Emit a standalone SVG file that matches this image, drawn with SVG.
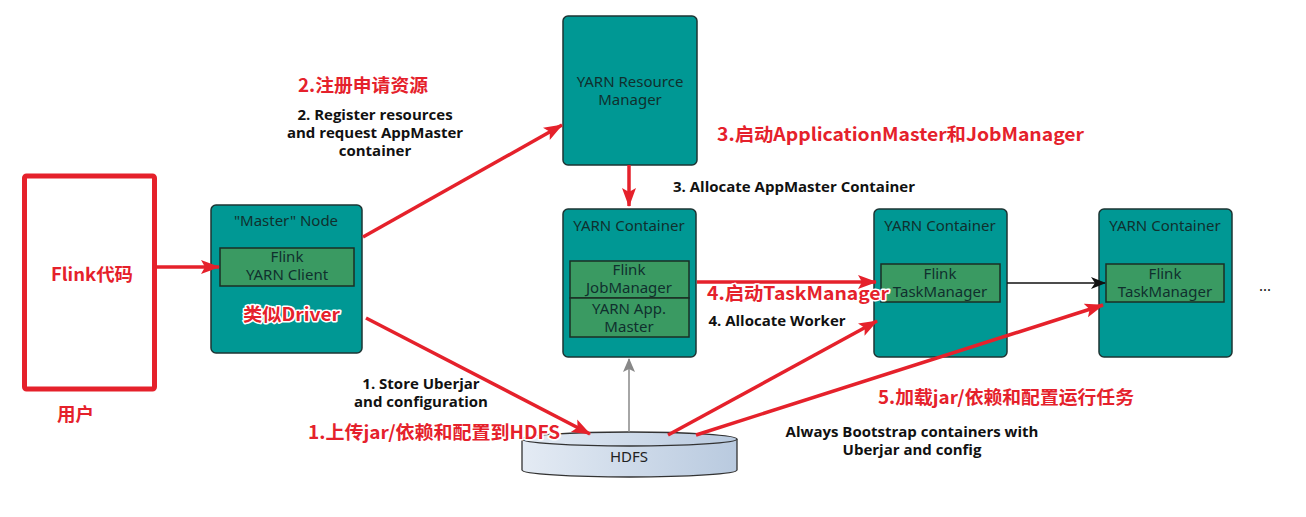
<svg xmlns="http://www.w3.org/2000/svg" width="1306" height="517" viewBox="0 0 1306 517">
<style>
.box{fill:#009894;stroke:#1d3433;stroke-width:1.5}
.inner{fill:#3a9a62;stroke:#1b2e24;stroke-width:1.5}
.bt{font-family:"Noto Sans","Open Sans",sans-serif;font-size:15px;fill:#10302e;text-anchor:middle}
.lbl{font-family:"Open Sans","Noto Sans",sans-serif;font-size:15px;font-weight:bold;fill:#111;text-anchor:middle}
.red{font-family:"Noto Sans CJK SC","Noto Sans",sans-serif;font-size:18px;font-weight:bold;fill:#e5212b;stroke:#ffffff;stroke-width:3;paint-order:stroke;stroke-linejoin:round}
.ra{stroke:#e5212b;stroke-width:3.5;fill:none;marker-end:url(#rh)}
</style>
<defs>
<marker id="rh" markerUnits="userSpaceOnUse" markerWidth="20" markerHeight="16" refX="18" refY="8" orient="auto">
<path d="M0,1 L19,8 L0,15 L4,8 z" fill="#e5212b"/>
</marker>
<marker id="bh" markerUnits="userSpaceOnUse" markerWidth="16" markerHeight="14" refX="14" refY="7" orient="auto">
<path d="M0,1 L15,7 L0,13 L4,7 z" fill="#111"/>
</marker>
<marker id="gh" markerUnits="userSpaceOnUse" markerWidth="14" markerHeight="14" refX="13" refY="7" orient="auto">
<path d="M0,1 L14,7 L0,13 L3,7 z" fill="#888"/>
</marker>
<linearGradient id="hd" x1="0" y1="0" x2="1" y2="0">
<stop offset="0" stop-color="#e4ebf4"/>
<stop offset="1" stop-color="#b9cadf"/>
</linearGradient>
</defs>

<g id="user">
<rect x="24.5" y="176" width="130" height="213" fill="#fff" stroke="#e5212b" stroke-width="5" rx="2"/>
<text class="red" x="51" y="281" textLength="82" lengthAdjust="spacingAndGlyphs">Flink代码</text>
<text class="red" x="57" y="421" textLength="37" lengthAdjust="spacingAndGlyphs">用户</text>
</g>

<g id="master">
<rect class="box" x="211" y="205" width="151" height="148" rx="5"/>
<text class="bt" x="286" y="226">"Master" Node</text>
<rect class="inner" x="220" y="248" width="134" height="38"/>
<text class="bt" x="287" y="262">Flink</text>
<text class="bt" x="287" y="280">YARN Client</text>
<text class="red" x="243" y="321" textLength="97" lengthAdjust="spacingAndGlyphs">类似Driver</text>
</g>

<g id="rm">
<rect class="box" x="563" y="16" width="134" height="149" rx="5"/>
<text class="bt" x="630" y="87">YARN Resource</text>
<text class="bt" x="630" y="105">Manager</text>
</g>

<g id="c1">
<rect class="box" x="563" y="209" width="133" height="148" rx="5"/>
<text class="bt" x="629" y="231">YARN Container</text>
<rect class="inner" x="570" y="261" width="119" height="37"/>
<text class="bt" x="629" y="275">Flink</text>
<text class="bt" x="629" y="293">JobManager</text>
<rect class="inner" x="570" y="298" width="119" height="39"/>
<text class="bt" x="629" y="314">YARN App.</text>
<text class="bt" x="629" y="332">Master</text>
</g>

<g id="c2">
<rect class="box" x="874" y="209" width="133" height="148" rx="5"/>
<text class="bt" x="940" y="231">YARN Container</text>
<rect class="inner" x="881" y="264" width="119" height="38"/>
<text class="bt" x="940" y="279">Flink</text>
<text class="bt" x="940" y="297">TaskManager</text>
</g>

<g id="c3">
<rect class="box" x="1099" y="209" width="133" height="148" rx="5"/>
<text class="bt" x="1165" y="231">YARN Container</text>
<rect class="inner" x="1106" y="264" width="118" height="38"/>
<text class="bt" x="1165" y="279">Flink</text>
<text class="bt" x="1165" y="297">TaskManager</text>
</g>

<g id="more">
<text class="bt" x="1265" y="291" style="fill:#111">...</text>
</g>

<g id="hdfs">
<path d="M522,439 L522,470 A107.5,7 0 0 0 737,470 L737,439" fill="url(#hd)" stroke="#333" stroke-width="1.3"/>
<ellipse cx="629.5" cy="439" rx="107.5" ry="7" fill="url(#hd)" stroke="#333" stroke-width="1.3"/>
<text class="bt" x="629" y="462" style="fill:#222">HDFS</text>
</g>

<g id="connectors">
<line class="ra" x1="157" y1="267" x2="219" y2="267"/>
<line class="ra" x1="363" y1="237" x2="562" y2="125"/>
<line class="ra" x1="629" y1="165" x2="629" y2="206"/>
<line class="ra" x1="697" y1="282" x2="876" y2="282"/>
<line x1="1007" y1="283" x2="1105" y2="283" stroke="#111" stroke-width="1.3" marker-end="url(#bh)"/>
<line x1="629" y1="432" x2="629" y2="359" stroke="#888" stroke-width="1.5" marker-end="url(#gh)"/>
<line class="ra" x1="366" y1="318" x2="590" y2="434"/>
<line class="ra" x1="668" y1="435" x2="877" y2="321"/>
<line class="ra" x1="696" y1="435" x2="1103" y2="305"/>
</g>

<g id="labels">
<text class="red" x="298" y="92" textLength="130" lengthAdjust="spacingAndGlyphs">2.注册申请资源</text>
<text class="lbl" x="375" y="120">2. Register resources</text>
<text class="lbl" x="375" y="138">and request AppMaster</text>
<text class="lbl" x="375" y="156">container</text>
<text class="red" x="717" y="141" textLength="367" lengthAdjust="spacingAndGlyphs">3.启动ApplicationMaster和JobManager</text>
<text class="lbl" x="794" y="192">3. Allocate AppMaster Container</text>
<text class="red" x="707" y="300" textLength="182" lengthAdjust="spacingAndGlyphs">4.启动TaskManager</text>
<text class="lbl" x="777" y="326">4. Allocate Worker</text>
<text class="lbl" x="421" y="389">1. Store Uberjar</text>
<text class="lbl" x="421" y="407">and configuration</text>
<text class="red" x="308" y="439" textLength="252" lengthAdjust="spacingAndGlyphs">1.上传jar/依赖和配置到HDFS</text>
<text class="red" x="878" y="404" textLength="256" lengthAdjust="spacingAndGlyphs">5.加载jar/依赖和配置运行任务</text>
<text class="lbl" x="912" y="437">Always Bootstrap containers with</text>
<text class="lbl" x="912" y="455">Uberjar and config</text>
</g>
</svg>
